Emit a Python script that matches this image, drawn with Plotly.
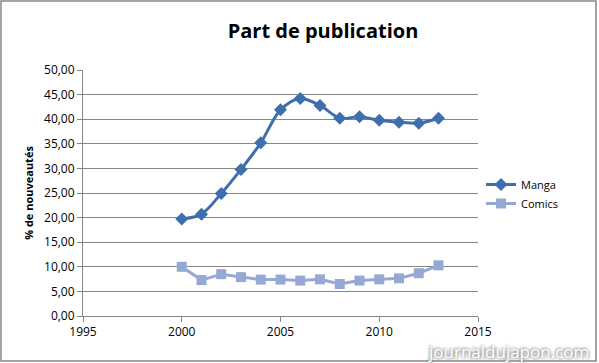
import plotly.graph_objects as go

years = [2000, 2001, 2002, 2003, 2004, 2005, 2006, 2007, 2008, 2009, 2010, 2011, 2012, 2013]
manga = [19.7, 20.7, 24.9, 29.8, 35.2, 41.9, 44.2, 42.8, 40.2, 40.5, 39.8, 39.4, 39.2, 40.2]
comics = [10.0, 7.3, 8.5, 7.9, 7.4, 7.4, 7.2, 7.45, 6.5, 7.2, 7.45, 7.65, 8.7, 10.3]
x_ticks = [1995, 2000, 2005, 2010, 2015]
y_ticks = [0, 5, 10, 15, 20, 25, 30, 35, 40, 45, 50]

FONT = "Open Sans"
W, H = 599, 363
L, R, T, B = 83, 121, 70, 47
pw, ph = W - L - R, H - T - B

def px(x):
    return (x - L) / pw

def py(y):
    return (H - B - y) / ph

fig = go.Figure()
fig.add_trace(go.Scatter(
    x=years, y=manga, name="Manga", mode="lines+markers",
    line=dict(color="#3f6ead", width=3, shape="spline", smoothing=0.9),
    marker=dict(symbol="diamond", size=10, color="#3f6ead"),
))
fig.add_trace(go.Scatter(
    x=years, y=comics, name="Comics", mode="lines+markers",
    line=dict(color="#95a9d4", width=3),
    marker=dict(symbol="square", size=10, color="#95a9d4"),
))

fig.update_layout(
    width=W, height=H,
    margin=dict(l=L, r=R, t=T, b=B),
    paper_bgcolor="white", plot_bgcolor="white",
    font=dict(family=FONT, size=11, color="#000000"),
    title=dict(text="<b>Part de publication</b>", x=323 / W, xanchor="center",
               y=1 - 31 / H, yanchor="middle", font=dict(size=20, family=FONT, color="#000")),
    legend=dict(x=px(481), y=py(170), xanchor="left", yanchor="top",
                font=dict(size=11, family=FONT), bgcolor="rgba(0,0,0,0)",
                tracegroupgap=4, itemwidth=30),
    showlegend=True,
    separators=",.",
)
fig.update_xaxes(
    range=[1995, 2015], tickvals=x_ticks, ticktext=[str(v) for v in x_ticks],
    showgrid=False, showline=True, linecolor="#868686", linewidth=1,
    ticks="outside", ticklen=5, tickcolor="#868686",
    tickfont=dict(size=12, family=FONT), zeroline=False,
)
fig.update_yaxes(
    range=[0, 50], tickvals=y_ticks, tickformat=".2f",
    showgrid=True, gridcolor="#868686", gridwidth=1,
    showline=True, linecolor="#868686", linewidth=1,
    ticks="outside", ticklen=5, tickcolor="#868686",
    tickfont=dict(size=12, family=FONT), zeroline=False,
    title=dict(text="<b>% de nouveautés</b>", font=dict(size=11, family=FONT), standoff=8),
)

fig.add_shape(type="rect", xref="paper", yref="paper",
              x0=px(1), x1=px(596), y0=py(361), y1=py(1),
              line=dict(color="#868686", width=1.5), fillcolor="rgba(0,0,0,0)", layer="below")

fig.add_annotation(text="journaldujapon.com", xref="paper", yref="paper",
                   x=px(590), y=py(364), xanchor="right", yanchor="bottom", showarrow=False,
                   borderpad=0,
                   font=dict(size=17, family=FONT, color="#ffffff",
                             shadow="1px 1px 3px #888, -1px -1px 3px #888"))

fig.write_html("out.html", config={"displayModeBar": False},
               post_script="document.body.style.margin='0';document.body.style.overflow='hidden';")
